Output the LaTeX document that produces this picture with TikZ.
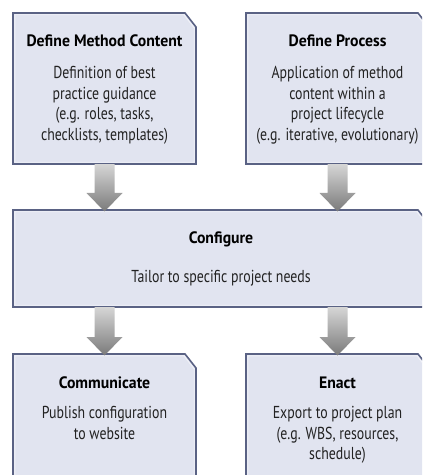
\documentclass[tikz,border=0pt]{standalone}
\usepackage{fontspec}
\setmainfont{PT Sans}[FakeStretch=0.80,BoldFeatures={FakeStretch=0.955}]
\usetikzlibrary{calc}
\definecolor{boxfill}{HTML}{E1E4F0}
\definecolor{boxline}{HTML}{5A6284}
\definecolor{boxhi}{HTML}{F1F2F8}
\definecolor{txt}{HTML}{222222}
\definecolor{arrtop}{HTML}{D6D6D6}
\definecolor{arrbot}{HTML}{7A7A7A}
\newcommand\cutbox[1]{%
  \draw[boxshape] (#1.south west) -- (#1.north west) -- ([xshift=-11bp]#1.north east)
    -- ([yshift=-14bp]#1.north east) -- (#1.south east) -- cycle;
  \draw[boxinner] ([shift={(1.8bp,1.8bp)}]#1.south west) -- ([shift={(1.8bp,-1.8bp)}]#1.north west)
    -- ([shift={(-12bp,-1.8bp)}]#1.north east) -- ([shift={(-1.8bp,-15bp)}]#1.north east)
    -- ([shift={(-1.8bp,1.8bp)}]#1.south east) -- cycle;}
\newcommand\fatarrow[3]{%
  \shade[arrowshade] let \p1=(#1.south), \p2=(#2.north), \p3=(#3.center) in
    (\x3-10bp,\y1) -- (\x3+10bp,\y1) -- (\x3+10bp,\y2+17bp) -- (\x3+18bp,\y2+17bp)
    -- (\x3,\y2-1.5bp) -- (\x3-18bp,\y2+17bp) -- (\x3-10bp,\y2+17bp) -- cycle;}
\begin{document}
\begin{tikzpicture}[x=1bp,y=-1bp,
  font=\fontsize{17.3bp}{20.5bp}\selectfont,
  boxnode/.style={draw=none,fill=none,inner sep=0pt,outer sep=0pt,anchor=north west,minimum width=#1},
  boxshape/.style={fill=boxfill,draw=boxline,line width=1.6bp,line join=miter},
  boxinner/.style={draw=boxhi,line width=0.9bp},
  arrowshade/.style={top color=arrtop,bottom color=arrbot},
  title/.style={anchor=base,font=\fontsize{16.5bp}{20.5bp}\selectfont\bfseries,text=black},
  body/.style={anchor=base,text=txt,inner sep=0pt}]
\useasboundingbox (0,0) rectangle (422,475);
\clip (0,0) rectangle (422,475);
\fill[white] (0,0) rectangle (422,475);
% boxes
\node[boxnode=183bp,minimum height=151bp] (dmc) at (13,13) {};
\node[boxnode=183bp,minimum height=151bp] (dp) at (246,13) {};
\node[boxnode=416bp,minimum height=97bp] (cfg) at (13,210) {};
\node[boxnode=183bp,minimum height=150bp] (com) at (13,354) {};
\node[boxnode=183bp,minimum height=150bp] (ena) at (246,354) {};
\cutbox{dmc}\cutbox{dp}\cutbox{cfg}\cutbox{com}\cutbox{ena}
% arrows
\fatarrow{dmc}{cfg}{dmc}
\fatarrow{dp}{cfg}{dp}
\fatarrow{cfg}{com}{com}
\fatarrow{cfg}{ena}{ena}
% texts
\node[title] (t1) at ([yshift=-33.7bp]dmc.north) {Define Method Content};
\node[body] (d1) at ([yshift=-66bp]dmc.north) {\parbox[t]{180bp}{\centering Definition of best\\practice guidance\\(e.g. roles, tasks,\\checklists, templates)}};
\node[title] (t2) at ([yshift=-33.7bp]dp.north) {Define Process};
\node[body] (d2) at ([yshift=-66bp]dp.north) {\parbox[t]{180bp}{\centering Application of method\\content within a\\project lifecycle\\(e.g. iterative, evolutionary)}};
\node[title] (t3) at ([yshift=-33bp]cfg.north) {Configure};
\node[body] (d3) at ([yshift=-72bp]cfg.north) {Tailor to specific project needs};
\node[title] (t4) at ([yshift=-34bp]com.north) {Communicate};
\node[body] (d4) at ([yshift=-64.5bp]com.north) {\parbox[t]{180bp}{\centering Publish configuration\\to website}};
\node[title] (t5) at ([yshift=-34bp]ena.north) {Enact};
\node[body] (d5) at ([yshift=-64.5bp]ena.north) {\parbox[t]{180bp}{\centering Export to project plan\\(e.g. WBS, resources,\\schedule)}};
\end{tikzpicture}
\end{document}
